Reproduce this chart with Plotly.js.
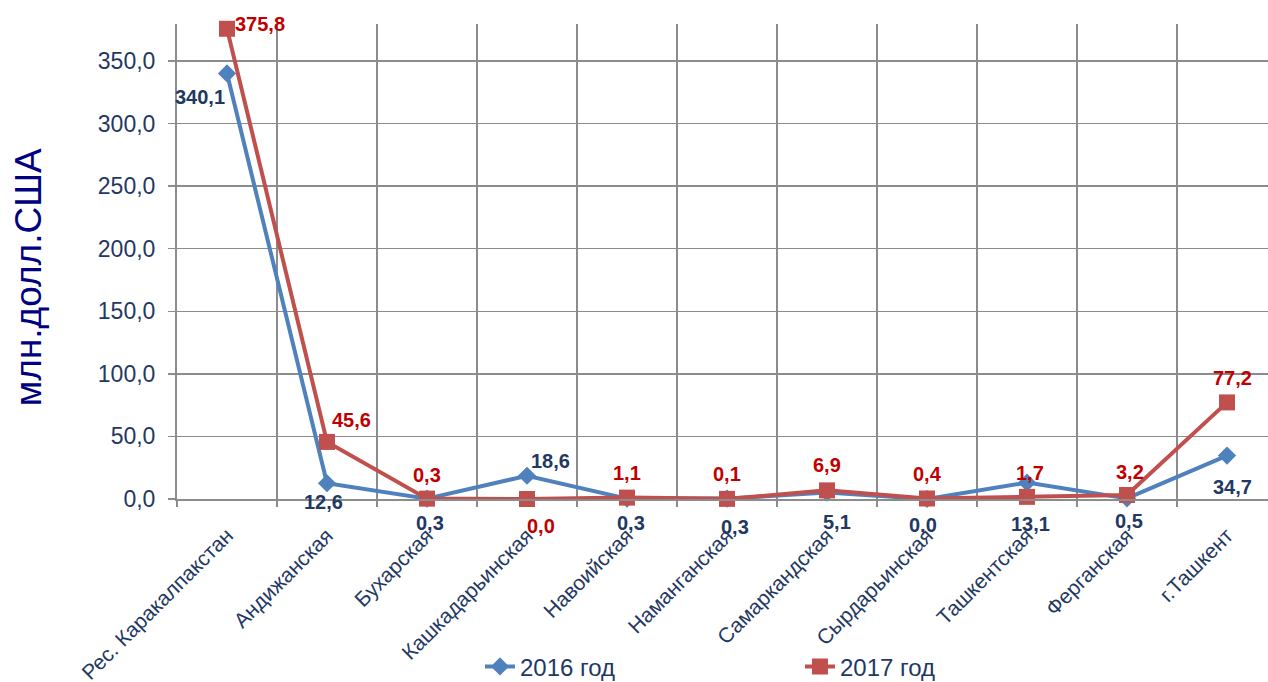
<!DOCTYPE html>
<html>
<head>
<meta charset="utf-8">
<script src="https://cdn.plot.ly/plotly-3.0.1.min.js"></script>
<style>html,body{margin:0;padding:0;background:#fff;}#chart{width:1268px;height:682px;}</style>
</head>
<body>
<div id="chart"></div>
<script>
const categories = ["Рес. Каракалпакстан", "Андижанская", "Бухарская", "Кашкадарьинская", "Навоийская", "Наманганская", "Самаркандская", "Сырдарьинская", "Ташкентская", "Ферганская", "г.Ташкент"];
const values2016 = [340.1, 12.6, 0.3, 18.6, 0.3, 0.3, 5.1, 0.0, 13.1, 0.5, 34.7];
const values2017 = [375.8, 45.6, 0.3, 0.0, 1.1, 0.1, 6.9, 0.4, 1.7, 3.2, 77.2];
const seriesNames = ["2016 год", "2017 год"];
const yTitle = "млн.долл.США";

// label offsets in pixels (style only): [xshift, yshift]
const shift2016 = [[-27,-24],[-4,-19],[3,-24],[23,15],[4,-24],[8,-28],[10,-29],[-4,-26],[3,-41],[2,-23],[5,-31]];
const shift2017 = [[33,5],[24,22],[0,24],[14,-27],[0,25],[0,25],[0,25],[0,25],[3,24],[3,23],[5,24]];

const font = "Liberation Sans, Arial, sans-serif";
const navy = "#1F3864";
const grid = "#8c8c8c";
const fmt = v => v.toFixed(1).replace(".", ",");

const traces = [
  {
    x: categories, y: values2016, name: seriesNames[0], type: "scatter",
    mode: "lines+markers",
    line: {color: "#4F81BD", width: 4},
    marker: {symbol: "diamond", size: 14, color: "#4F81BD"},
    cliponaxis: false
  },
  {
    x: categories, y: values2017, name: seriesNames[1], type: "scatter",
    mode: "lines+markers",
    line: {color: "#C0504D", width: 4},
    marker: {symbol: "square", size: 16, color: "#C0504D"},
    cliponaxis: false
  }
];

const annotations = [];
categories.forEach((c, i) => {
  annotations.push({x: c, y: values2016[i], xref: "x", yref: "y", text: fmt(values2016[i]), showarrow: false,
    xshift: shift2016[i][0], yshift: shift2016[i][1],
    font: {family: font, size: 20, color: navy, weight: "bold"}});
});
categories.forEach((c, i) => {
  annotations.push({x: c, y: values2017[i], xref: "x", yref: "y", text: fmt(values2017[i]), showarrow: false,
    xshift: shift2017[i][0], yshift: shift2017[i][1],
    font: {family: font, size: 20, color: "#C00000", weight: "bold"}});
});
annotations.push({xref: "paper", yref: "paper", x: -0.1366, y: 0.467, xanchor: "center", yanchor: "middle",
  text: yTitle, textangle: -90, showarrow: false, font: {family: font, size: 37, color: "#000080"}});

const layout = {
  width: 1268, height: 682,
  margin: {l: 177, r: 0, t: 24, b: 183, pad: 0, autoexpand: false},
  paper_bgcolor: "#fff", plot_bgcolor: "#fff",
  separators: ", ",
  font: {family: font, color: navy},
  showlegend: true,
  legend: {
    orientation: "h", x: 0.2777, xanchor: "left", y: -0.306, yanchor: "top",
    bgcolor: "rgba(0,0,0,0)",
    font: {family: font, size: 24, color: navy},
    entrywidth: 275, entrywidthmode: "pixels", traceorder: "normal"
  },
  annotations: annotations,
  xaxis: {
    type: "category", range: [-0.5, 10.41], automargin: false,
    tickson: "boundaries", showgrid: true, gridcolor: grid, gridwidth: 1.5,
    showline: true, linecolor: grid, linewidth: 2,
    ticks: "outside", ticklen: 6, tickcolor: grid, tickwidth: 1.5,
    ticklabelstandoff: 14,
    tickangle: -45, tickfont: {family: font, size: 21, color: navy},
    zeroline: false, fixedrange: true
  },
  yaxis: {
    range: [0, 379.6], dtick: 50, tick0: 0, tickformat: ".1f", automargin: false,
    showgrid: true, gridcolor: grid, gridwidth: 1.5,
    showline: true, linecolor: grid, linewidth: 2,
    ticks: "outside", ticklen: 7, tickcolor: grid, tickwidth: 1.5,
    ticklabelstandoff: 8,
    tickfont: {family: font, size: 23, color: navy},
    zeroline: false, fixedrange: true
  }
};

Plotly.newPlot("chart", traces, layout, {displayModeBar: false, staticPlot: true});
</script>
</body>
</html>
